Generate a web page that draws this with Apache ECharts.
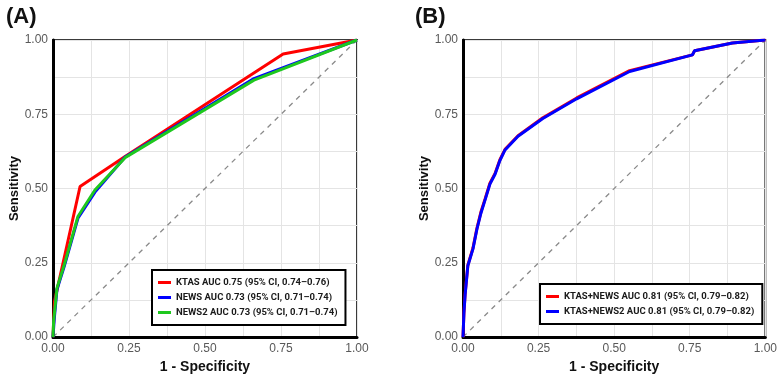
<!DOCTYPE html>
<html>
<head>
<meta charset="utf-8">
<script src="https://cdn.jsdelivr.net/npm/echarts@6/dist/echarts.min.js"></script>
<style>
  html, body { margin: 0; padding: 0; background: #fff; }
  #chart { width: 780px; height: 379px; }
</style>
</head>
<body>
<div id="chart"></div>
<script>
// panel A: [1 - specificity, sensitivity]
const ktas = [[0, 0], [0.005, 0.12], [0.089, 0.507], [0.237, 0.608], [0.757, 0.953], [1, 1]];
const news = [[0, 0], [0.004, 0.06], [0.013, 0.16], [0.036, 0.235], [0.082, 0.4], [0.138, 0.488], [0.237, 0.606], [0.661, 0.87], [1, 1]];
const news2 = [[0, 0], [0.002, 0.053], [0.013, 0.165], [0.036, 0.24], [0.082, 0.406], [0.138, 0.495], [0.237, 0.604], [0.661, 0.865], [1, 1]];

// panel B
const ktasNews = [[0, 0], [0.003, 0.08], [0.007, 0.145], [0.016, 0.242], [0.033, 0.3], [0.046, 0.366], [0.059, 0.42], [0.073, 0.465], [0.089, 0.518], [0.106, 0.551], [0.122, 0.597], [0.139, 0.632], [0.182, 0.678], [0.264, 0.738], [0.376, 0.805], [0.551, 0.897], [0.759, 0.95], [0.766, 0.964], [0.891, 0.99], [1, 1]];
const ktasNews2 = [[0, 0], [0.003, 0.08], [0.007, 0.142], [0.016, 0.24], [0.033, 0.297], [0.046, 0.363], [0.059, 0.416], [0.073, 0.462], [0.089, 0.515], [0.106, 0.548], [0.122, 0.594], [0.139, 0.63], [0.182, 0.676], [0.264, 0.736], [0.376, 0.802], [0.551, 0.894], [0.759, 0.95], [0.766, 0.964], [0.891, 0.99], [1, 1]];

const chance = [[0, 0], [1, 1]];

const namesA = ['KTAS AUC 0.75 (95% CI, 0.74\u20130.76)', 'NEWS AUC 0.73 (95% CI, 0.71\u20130.74)', 'NEWS2 AUC 0.73 (95% CI, 0.71\u20130.74)'];
const namesB = ['KTAS+NEWS AUC 0.81 (95% CI, 0.79\u20130.82)', 'KTAS+NEWS2 AUC 0.81 (95% CI, 0.79\u20130.82)'];
const panelTitles = ['(A)', '(B)'];

const chart = echarts.init(document.getElementById('chart'), null, { renderer: 'canvas' });

const labelFont = { color: '#595959', fontSize: 12, fontFamily: 'Liberation Sans, Arial, sans-serif' };
const gridLine = { lineStyle: { color: '#e4e4e4', width: 1 } };

function xAxis(i) {
  return {
    type: 'value', gridIndex: i, min: 0, max: 1, interval: 0.25,
    name: '1 - Specificity', nameLocation: 'middle', nameGap: 22,
    nameTextStyle: { color: '#111', fontSize: 14, fontWeight: 'bold', fontFamily: 'Liberation Sans, Arial, sans-serif' },
    axisLine: { show: true, onZero: false, lineStyle: { color: '#000', width: 3 } },
    axisTick: { show: false },
    axisLabel: Object.assign({ margin: 6, formatter: (v) => v.toFixed(2) }, labelFont),
    splitLine: Object.assign({ show: true }, gridLine),
    minorTick: { show: false, splitNumber: 2 },
    minorSplitLine: Object.assign({ show: true }, gridLine)
  };
}

function yAxis(i) {
  return {
    type: 'value', gridIndex: i, min: 0, max: 1, interval: 0.25,
    name: 'Sensitivity', nameLocation: 'middle', nameGap: 30,
    nameTextStyle: { color: '#111', fontSize: 13, fontWeight: 'bold', fontFamily: 'Liberation Sans, Arial, sans-serif' },
    axisLine: { show: true, onZero: false, lineStyle: { color: '#000', width: 3 } },
    axisTick: { show: false },
    axisLabel: Object.assign({ margin: 5, formatter: (v) => v.toFixed(2) }, labelFont),
    splitLine: Object.assign({ show: true }, gridLine),
    minorTick: { show: false, splitNumber: 2 },
    minorSplitLine: Object.assign({ show: true }, gridLine)
  };
}

function rocLine(name, data, color, i) {
  return {
    name, type: 'line', xAxisIndex: i, yAxisIndex: i, data,
    showSymbol: false, symbol: 'none', smooth: false,
    lineStyle: { color, width: 3 }, itemStyle: { color }
  };
}

function diagonal(i) {
  return {
    name: 'chance' + i, type: 'line', xAxisIndex: i, yAxisIndex: i, data: chance,
    showSymbol: false, symbol: 'none', z: 1,
    lineStyle: { color: '#8a8a8a', width: 1.3, type: [5, 5] }
  };
}

const legendText = { color: '#1a1a1a', fontSize: 9.5, lineHeight: 11, fontWeight: 'bold', fontFamily: 'Roboto, sans-serif' };

chart.setOption({
  animation: false,
  backgroundColor: '#fff',
  title: panelTitles.map((t, i) => ({
    text: t, left: i === 0 ? 1 : 410, top: 1,
    textStyle: { fontSize: 22, fontWeight: 'bold', color: '#111', fontFamily: 'Liberation Sans, Arial, sans-serif' }
  })),
  grid: [
    { left: 53, right: 423, top: 40, bottom: 36, show: true, borderColor: '#3a3a3a', borderWidth: 2 },
    { left: 463, right: 14, top: 40, bottom: 36, show: true, borderColor: '#3a3a3a', borderWidth: 2 }
  ],
  xAxis: [xAxis(0), xAxis(1)],
  yAxis: [yAxis(0), yAxis(1)],
  legend: [
    {
      data: namesA, orient: 'vertical', left: 152, top: 270,
      backgroundColor: '#fff', borderColor: '#000', borderWidth: 2, borderRadius: 0,
      padding: [7, 8, 7, 6], itemGap: 4, itemWidth: 13, itemHeight: 3, icon: 'rect',
      textStyle: legendText, selectedMode: false
    },
    {
      data: namesB, orient: 'vertical', left: 540, top: 284,
      backgroundColor: '#fff', borderColor: '#000', borderWidth: 2, borderRadius: 0,
      padding: [7, 8, 7, 6], itemGap: 4, itemWidth: 13, itemHeight: 3, icon: 'rect',
      textStyle: legendText, selectedMode: false
    }
  ],
  series: [
    diagonal(0),
    rocLine(namesA[0], ktas, '#ff0000', 0),
    rocLine(namesA[1], news, '#0000ff', 0),
    rocLine(namesA[2], news2, '#1ec81e', 0),
    diagonal(1),
    rocLine(namesB[0], ktasNews, '#ff0000', 1),
    rocLine(namesB[1], ktasNews2, '#0000ff', 1)
  ]
});
</script>
</body>
</html>
